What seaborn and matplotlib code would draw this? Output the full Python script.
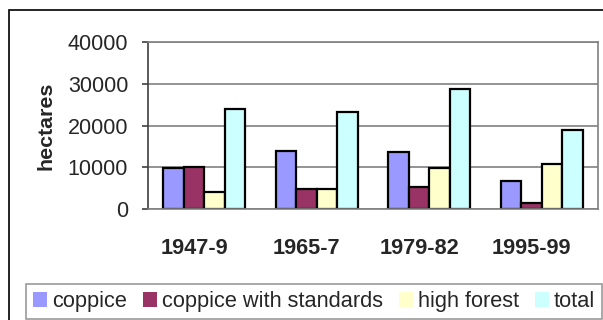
import matplotlib
matplotlib.use("Agg")
import matplotlib.pyplot as plt
import matplotlib.patches as mpatches
import matplotlib.transforms as mtransforms
import numpy as np
import pandas as pd
import seaborn as sns

# Data
periods = ["1947-9", "1965-7", "1979-82", "1995-99"]
coppice = [9800, 13900, 13600, 6700]
coppice_with_standards = [10000, 4800, 5300, 1400]
high_forest = [4000, 4800, 9800, 10800]
total = [23900, 23200, 28700, 18900]

series_names = ["coppice", "coppice with standards", "high forest", "total"]
series_colors = ["#9999FF", "#993366", "#FFFFCC", "#CCFFFF"]

df = pd.DataFrame({
    "period": periods * 4,
    "type": np.repeat(series_names, len(periods)),
    "hectares": coppice + coppice_with_standards + high_forest + total,
})

sns.set_style("white")
plt.rcParams["font.family"] = ["Liberation Sans", "DejaVu Sans"]

fig = plt.figure(figsize=(6.03, 3.2), dpi=100)
ax = fig.add_axes([148 / 603, 1 - 209 / 320, 450 / 603, 167 / 320])

sns.barplot(data=df, x="period", y="hectares", hue="type", palette=series_colors,
            hue_order=series_names, order=periods, width=0.73, edgecolor="black",
            linewidth=1.6, saturation=1, legend=False, ax=ax)

ax.set_ylim(0, 40000)
ax.set_yticks(np.arange(0, 40001, 10000))
ax.yaxis.grid(True, color="#808080", linewidth=1.2)
ax.set_axisbelow(True)
ax.tick_params(axis="y", labelsize=15.5, length=4.3, width=1.2, color="#404040",
               direction="out", left=True, pad=10)
ax.tick_params(axis="x", labelsize=15.7, length=0, pad=21)
# the category labels sit a little left of the bar groups in the original
shift = mtransforms.ScaledTranslation(-10 / 100, 0, fig.dpi_scale_trans)
for lbl in ax.get_xticklabels():
    lbl.set_fontweight("bold")
    lbl.set_transform(lbl.get_transform() + shift)
ax.set_xlabel("")
ax.set_ylabel("hectares", fontsize=15.4, fontweight="bold", labelpad=9)
for side in ["top", "right", "bottom"]:
    ax.spines[side].set_color("#808080")
    ax.spines[side].set_linewidth(1.2)
ax.spines["left"].set_color("#404040")
ax.spines["left"].set_linewidth(1.2)

# outer chart frame
fig.patches.append(mpatches.Rectangle((9 / 603, -0.1), 1.2, 1 - 10 / 320 + 0.1,
                                      transform=fig.transFigure, fill=False,
                                      edgecolor="black", linewidth=1.2))

handles = [mpatches.Patch(facecolor=c, edgecolor="none", label=n)
           for n, c in zip(series_names, series_colors)]
leg = fig.legend(handles=handles, loc="lower left", bbox_to_anchor=(26 / 603, 1 / 320),
                 ncol=4, fontsize=15.7, frameon=True, fancybox=False, handlelength=0.64,
                 handleheight=0.64, handletextpad=0.23, columnspacing=0.73,
                 borderpad=0.32, borderaxespad=0)
leg.get_frame().set_edgecolor("#808080")
leg.get_frame().set_linewidth(1.2)

fig.savefig("out.png", dpi=100)
